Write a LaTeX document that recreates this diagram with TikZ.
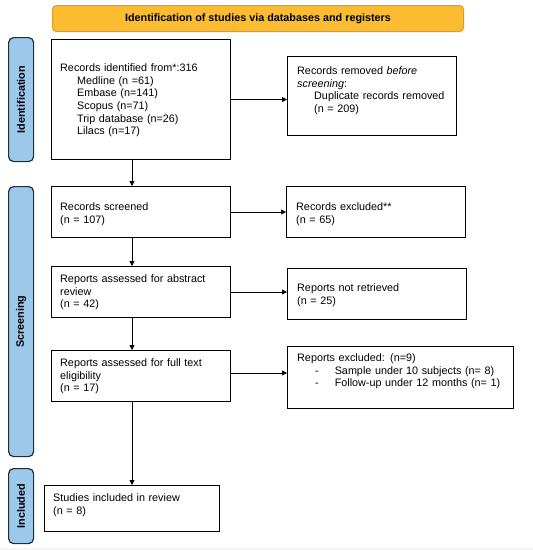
\documentclass[tikz,border=0pt]{standalone}
\usepackage{fontspec}
\setmainfont{Liberation Sans}
\usetikzlibrary{arrows.meta}
\definecolor{hdrfill}{RGB}{251,188,50}
\definecolor{hdrdraw}{RGB}{222,155,35}
\definecolor{sidefill}{RGB}{155,200,235}
\definecolor{sidedraw}{RGB}{35,45,55}
\begin{document}
\begin{tikzpicture}[x=1pt,y=-1pt,
  box/.style={draw=black,line width=1pt,anchor=north west,inner sep=0pt,rectangle},
  txt/.style={anchor=base west,inner sep=0pt,align=left,text width=#1,
    font=\fontsize{10.8}{12.67}\selectfont},
  hdr/.style={draw=hdrdraw,fill=hdrfill,line width=1pt,rounded corners=4pt,anchor=north west,
    inner sep=0pt,font=\bfseries\fontsize{10.8}{13}\selectfont},
  side/.style={draw=sidedraw,fill=sidefill,line width=1.2pt,rounded corners=5pt,anchor=north west,inner sep=0pt},
  sidelbl/.style={rotate=90,inner sep=0pt,font=\bfseries\fontsize{10.8}{13}\selectfont},
  arr/.style={draw=black,line width=0.8pt,-{Triangle[length=5pt,width=5pt]}}
]
\useasboundingbox (0,0) rectangle (533,550);
\fill[black!4] (0,548) rectangle (533,550);

% header
\node[hdr,minimum width=411pt,minimum height=26pt] (h) at (52,5) {Identification of studies via databases and registers};

% side bars
\node[side,minimum width=25pt,minimum height=124pt] (s1) at (8,37) {};
\node[sidelbl] (l1) at (s1.center) {Identification};
\node[side,minimum width=25pt,minimum height=270pt] (s2) at (8,186) {};
\node[sidelbl] (l2) at (s2.center) {Screening};
\node[side,minimum width=25pt,minimum height=75pt] (s3) at (8,468) {};
\node[sidelbl] (l3) at (s3.center) {Included};

% boxes
\node[box,minimum width=179pt,minimum height=120pt] (b1) at (51,39) {};
\node[box,minimum width=169pt,minimum height=79pt] (b2) at (287,56) {};
\node[box,minimum width=179pt,minimum height=51pt] (b3) at (51,186) {};
\node[box,minimum width=179pt,minimum height=51pt] (b4) at (286,186) {};
\node[box,minimum width=179pt,minimum height=51pt] (b5) at (51,266) {};
\node[box,minimum width=179pt,minimum height=51pt] (b6) at (287,268) {};
\node[box,minimum width=179pt,minimum height=51pt] (b7) at (51,350) {};
\node[box,minimum width=226pt,minimum height=62pt] (b8) at (287,346) {};
\node[box,minimum width=175pt,minimum height=46pt] (b9) at (44,485) {};

% texts
\node[txt=165pt] (t1) at (60,71.5) {Records identified from*:316\\
\hspace*{17pt}Medline (n =61)\\
\hspace*{17pt}Embase (n=141)\\
\hspace*{17pt}Scopus (n=71)\\
\hspace*{17pt}Trip database (n=26)\\
\hspace*{17pt}Lilacs (n=17)};
\node[txt=155pt] (t2) at (297,74.5) {Records removed \textit{before}\\
\textit{screening}:\\
\hspace*{17pt}Duplicate records removed\\
\hspace*{17pt}(n = 209)};
\node[txt=165pt] (t3) at (60,210.5) {Records screened\\(n = 107)};
\node[txt=165pt] (t4) at (296,210.5) {Records excluded**\\(n = 65)};
\node[txt=165pt] (t5) at (60,282.5) {Reports assessed for abstract\\review\\(n = 42)};
\node[txt=165pt] (t6) at (297,291.5) {Reports not retrieved\\(n = 25)};
\node[txt=165pt] (t7) at (60,366.5) {Reports assessed for full text\\eligibility\\(n = 17)};
\node[txt=215pt] (t8) at (297,361.5) {Reports excluded: (n=9)\\
\hspace*{18pt}-\hspace*{16pt}Sample under 10 subjects (n= 8)\\
\hspace*{18pt}-\hspace*{16pt}Follow-up under 12 months (n= 1)};
\node[txt=165pt] (t9) at (53,501.5) {Studies included in review\\(n = 8)};

% connectors
\draw[arr] (b1.east) -- (b1.east -| b2.west);
\draw[arr] (b3.east) -- (b3.east -| b4.west);
\draw[arr] (b5.east) -- (b5.east -| b6.west);
\draw[arr] ([yshift=3pt]b7.east) -- ([yshift=3pt]b7.east -| b8.west);
\draw[arr] (b9.north |- b1.south) -- (b9.north |- b3.north);
\draw[arr] (b9.north |- b3.south) -- (b9.north |- b5.north);
\draw[arr] (b9.north |- b5.south) -- (b9.north |- b7.north);
\draw[arr] (b9.north |- b7.south) -- (b9.north);
\end{tikzpicture}
\end{document}
